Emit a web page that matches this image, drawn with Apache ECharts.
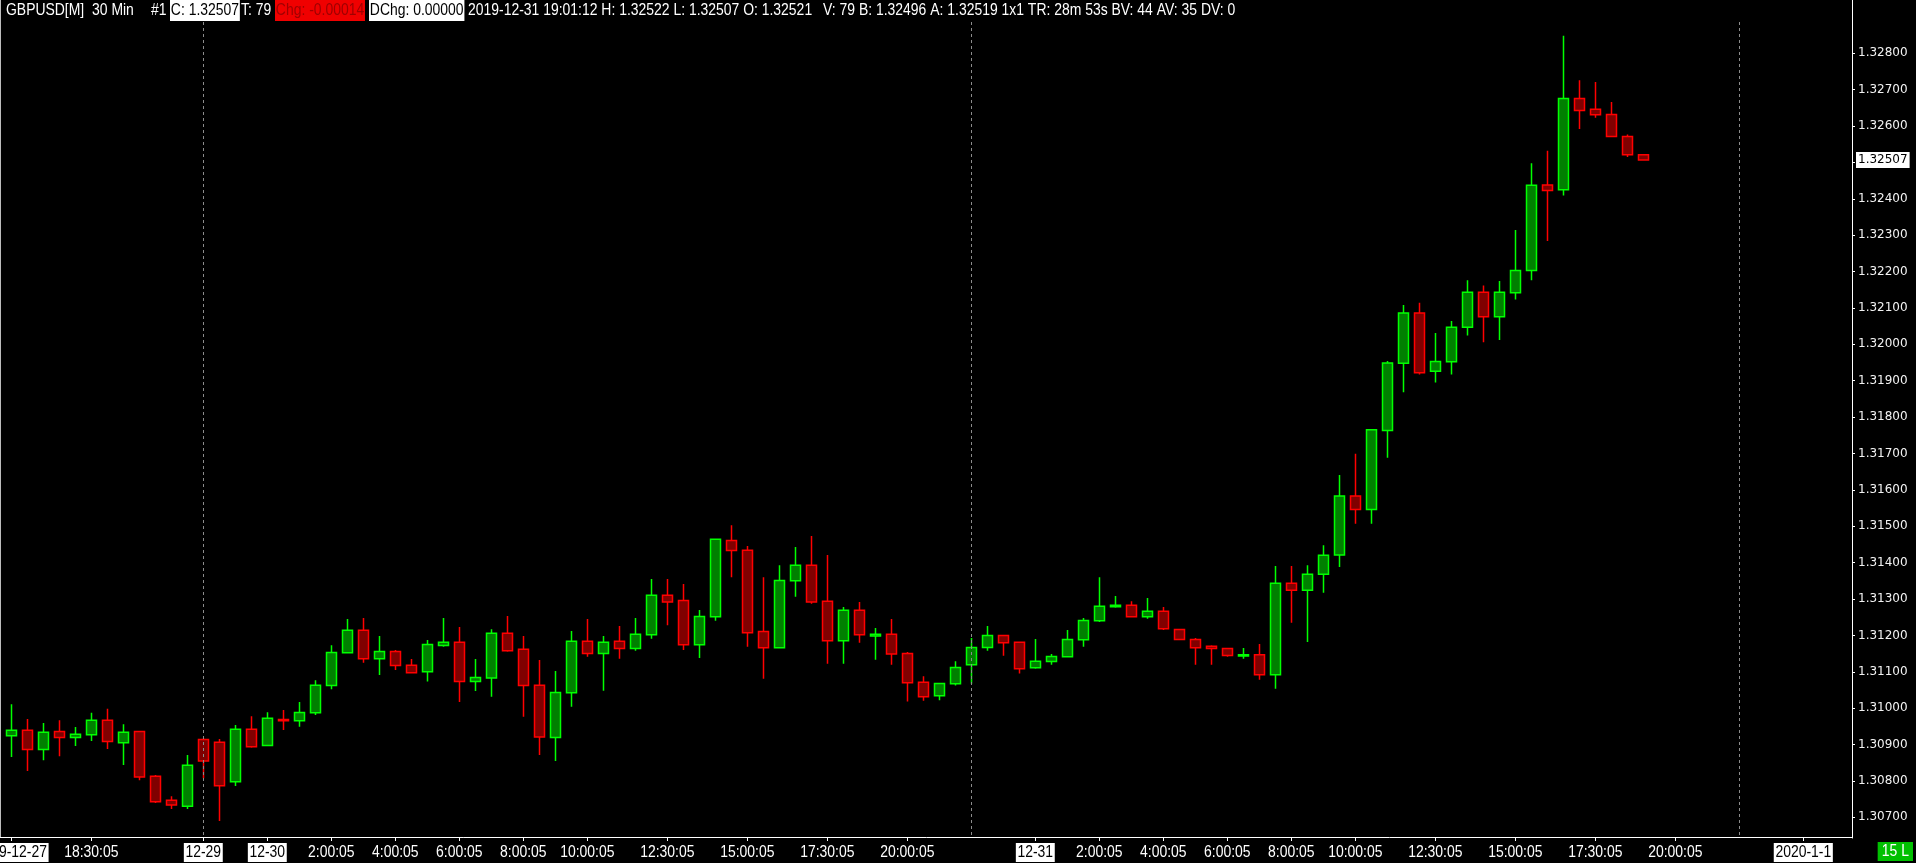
<!DOCTYPE html>
<html><head><meta charset="utf-8">
<script src="https://cdn.jsdelivr.net/npm/echarts@6/dist/echarts.min.js"></script>
<style>html,body{margin:0;padding:0;background:#000;overflow:hidden}#c{width:1916px;height:863px}</style>
</head><body><div id="c"></div>
<script>
// ---- data (GBPUSD 30 min) ----
const opens  = [1.30924,1.30939,1.30886,1.30936,1.30919,1.30927,1.30967,1.30905,1.30936,1.30813,1.30747,1.30730,1.30914,1.30906,1.30798,1.30942,1.30897,1.30969,1.30965,1.30987,
1.31062,1.31152,1.31214,1.31136,1.31156,1.31118,1.31100,1.31172,1.31181,1.31073,1.31083,1.31206,1.31162,1.31063,1.30919,1.31042,1.31184,1.31150,1.31184,1.31164,
1.31202,1.31310,1.31296,1.31174,1.31251,1.31461,1.31434,1.31211,1.31166,1.31350,1.31393,1.31294,1.31185,1.31269,1.31198,1.31203,1.31150,1.31071,1.31034,1.31067,
1.31119,1.31167,1.31200,1.31181,1.31111,1.31128,1.31141,1.31188,1.31240,1.31279,1.31283,1.31251,1.31266,1.31216,1.31189,1.31170,1.31164,1.31143,1.31147,1.31092,
1.31343,1.31324,1.31368,1.31421,1.31583,1.31546,1.31763,1.31948,1.32086,1.31926,1.31952,1.32047,1.32143,1.32076,1.32142,1.32203,1.32438,1.32425,1.32676,1.32646,
1.32632,1.32571,1.32521];
const closes = [1.30939,1.30886,1.30934,1.30919,1.30928,1.30967,1.30908,1.30934,1.30811,1.30743,1.30734,1.30843,1.30855,1.30787,1.30942,1.30894,1.30972,1.30965,1.30988,1.31063,
1.31153,1.31214,1.31136,1.31156,1.31117,1.31097,1.31175,1.31181,1.31073,1.31084,1.31206,1.31158,1.31062,1.30921,1.31043,1.31184,1.31150,1.31181,1.31164,1.31203,
1.31310,1.31292,1.31174,1.31252,1.31464,1.31433,1.31207,1.31166,1.31351,1.31393,1.31292,1.31185,1.31269,1.31202,1.31203,1.31149,1.31070,1.31031,1.31068,1.31112,
1.31167,1.31200,1.31180,1.31108,1.31129,1.31142,1.31189,1.31241,1.31280,1.31283,1.31251,1.31266,1.31218,1.31189,1.31166,1.31164,1.31145,1.31147,1.31092,1.31343,
1.31324,1.31368,1.31420,1.31583,1.31546,1.31765,1.31949,1.32086,1.31922,1.31953,1.32047,1.32143,1.32076,1.32143,1.32203,1.32437,1.32423,1.32676,1.32643,1.32631,
1.32571,1.32521,1.32507];
const highs  = [1.31011,1.30970,1.30959,1.30967,1.30948,1.30987,1.30998,1.30956,1.30936,1.30816,1.30758,1.30871,1.30917,1.30915,1.30954,1.30978,1.30989,1.30995,1.31017,1.31077,
1.31173,1.31245,1.31248,1.31198,1.31160,1.31135,1.31187,1.31248,1.31223,1.31135,1.31217,1.31253,1.31198,1.31132,1.31102,1.31212,1.31245,1.31198,1.31226,1.31248,
1.31355,1.31355,1.31341,1.31270,1.31464,1.31503,1.31446,1.31360,1.31393,1.31443,1.31473,1.31421,1.31278,1.31292,1.31220,1.31245,1.31154,1.31088,1.31069,1.31129,
1.31193,1.31226,1.31200,1.31181,1.31190,1.31149,1.31215,1.31248,1.31360,1.31308,1.31294,1.31303,1.31278,1.31216,1.31193,1.31173,1.31164,1.31165,1.31176,1.31391,
1.31391,1.31393,1.31448,1.31641,1.31699,1.31765,1.31954,1.32108,1.32114,1.32031,1.32064,1.32176,1.32162,1.32174,1.32314,1.32498,1.32532,1.32848,1.32726,1.32721,
1.32666,1.32577,1.32522];
const lows   = [1.30866,1.30827,1.30857,1.30868,1.30896,1.30910,1.30888,1.30844,1.30802,1.30739,1.30723,1.30723,1.30807,1.30690,1.30786,1.30891,1.30897,1.30940,1.30949,1.30981,
1.31052,1.31152,1.31125,1.31091,1.31105,1.31097,1.31073,1.31169,1.31017,1.31047,1.31031,1.31155,1.30976,1.30871,1.30855,1.31004,1.31141,1.31048,1.31136,1.31158,
1.31191,1.31228,1.31160,1.31138,1.31240,1.31360,1.31169,1.31081,1.31166,1.31306,1.31287,1.31122,1.31122,1.31180,1.31133,1.31119,1.31018,1.31020,1.31022,1.31062,
1.31067,1.31158,1.31144,1.31095,1.31108,1.31119,1.31141,1.31169,1.31237,1.31276,1.31251,1.31246,1.31215,1.31189,1.31119,1.31119,1.31141,1.31136,1.31078,1.31053,
1.31235,1.31182,1.31317,1.31388,1.31507,1.31507,1.31688,1.31868,1.31917,1.31895,1.31917,1.32024,1.32006,1.32012,1.32123,1.32176,1.32284,1.32409,1.32592,1.32623,
1.32571,1.32515,1.32507];
const priceTicks = [1.307,1.308,1.309,1.310,1.311,1.312,1.313,1.314,1.315,1.316,1.317,1.318,1.319,1.320,1.321,1.322,1.323,1.324,1.325,1.326,1.327,1.328];
const xTickIndex = [0,5,12,16,20,24,28,32,36,41,46,51,56,64,68,72,76,80,84,89,94,99,104,112];
const xTickText  = ['2019-12-27','18:30:05','12-29','12-30','2:00:05','4:00:05','6:00:05','8:00:05','10:00:05','12:30:05','15:00:05','17:30:05','20:00:05',
                    '12-31','2:00:05','4:00:05','6:00:05','8:00:05','10:00:05','12:30:05','15:00:05','17:30:05','20:00:05','2020-1-1'];
const sessionLines = [12,60,108];
const slotCount = 116;
const lastPrice = 1.32507;
const headerParts = [
  ['GBPUSD[M]', 6, null], ['30 Min', 92, null], ['#1', 151, null],
  ['C: 1.32507', 170, 'white'], ['T: 79', 241, null], ['Chg: -0.00014', 275, 'red'],
  ['DChg: 0.00000', 369, 'white'],
  ['2019-12-31 19:01:12 H: 1.32522 L: 1.32507 O: 1.32521', 468, null],
  ['V: 79 B: 1.32496 A: 1.32519 1x1 TR: 28m 53s BV: 44 AV: 35 DV: 0', 823, null]
];
const yMin = 1.3064305, yMax = 1.3294651, lineTop = 1.32886;

// ---- build ----
const cats = []; for (let i=0;i<slotCount;i++) cats.push(String(i));
const labelMap = {}; xTickIndex.forEach((k,j)=>labelMap[k]=xTickText[j]);
const ohlc = opens.map((o,i)=>[o, closes[i], lows[i], highs[i]]);
const FONT = '17px "Liberation Sans", Arial, sans-serif';
const SX = 0.82; // narrow rendering

const chart = echarts.init(document.getElementById('c'), null, {renderer:'canvas'});
const baseGraphic = [
  {type:'line', shape:{x1:0.5,y1:0,x2:0.5,y2:838}, style:{stroke:'#bdbdbd', lineWidth:1}, silent:true},
  {type:'line', shape:{x1:0,y1:837.5,x2:1852.5,y2:837.5}, style:{stroke:'#fff', lineWidth:1}, silent:true}
];
headerParts.forEach(([t,x,bg])=>{
  const st = {text:t, font:FONT, verticalAlign:'middle', align:'left', fill:'#fff'};
  if (bg==='white') { st.fill='#000'; st.backgroundColor='#fff'; st.padding=[2,1,2,1]; }
  if (bg==='red') { st.fill='#a00000'; st.backgroundColor='#f00000'; st.padding=[2,1,2,1]; }
  baseGraphic.push({type:'text', x:x, y:10.5, scaleX:SX, z:10, silent:true, style:st});
});
baseGraphic.push({type:'text', x:1913, y:851.5, scaleX:SX, silent:true,
  style:{text:'15 L', font:FONT, fill:'#fff', align:'right', verticalAlign:'middle', backgroundColor:'#00c000', padding:[1,5,1,5]}});

chart.setOption({
  backgroundColor:'#000',
  animation:false,
  grid:{left:3.3, top:0, width:1856, height:838, containLabel:false},
  xAxis:{type:'category', data:cats, boundaryGap:true,
    axisLine:{show:false},
    axisTick:{show:true, alignWithLabel:true, length:3, interval:(i)=>labelMap[i]!==undefined, lineStyle:{color:'#fff', width:1}},
    axisLabel:{show:false},
    splitLine:{show:false}},
  yAxis:{type:'value', position:'right', offset:-7.3, min:yMin, max:yMax, scale:true,
    axisLine:{show:true, lineStyle:{color:'#fff', width:1}},
    axisTick:{show:true, length:3, customValues:priceTicks, lineStyle:{color:'#fff'}},
    axisLabel:{show:true, customValues:priceTicks, margin:6, color:'#f2f2f2', fontFamily:'"DejaVu Sans",sans-serif', fontSize:12,
      formatter:(v)=>Number(v).toFixed(5)},
    splitLine:{show:false}},
  series:[{type:'candlestick', data:ohlc, barWidth:10, clip:false, z:2,
    itemStyle:{color:'#008000', color0:'#800000', borderColor:'#00ff00', borderColor0:'#ff0000', borderWidth:1.5},
    markLine:{silent:true, symbol:['none','none'], animation:false, z:5,
      data: sessionLines.map(k=>[{coord:[String(k), lineTop], lineStyle:{color:'#8c8c8c', type:[3,3], width:1}, label:{show:false}},
                                 {coord:[String(k), yMin]}])}
  }],
  graphic:baseGraphic
});

// x-axis tick labels and last-price tag placed through the axis scales
const g = baseGraphic.slice();
xTickIndex.forEach((k,j)=>{
  const px = chart.convertToPixel({xAxisIndex:0}, String(k));
  const t = xTickText[j];
  const isDate = t.indexOf('-')>=0;
  const st = {text:t, font:FONT, align:'center', verticalAlign:'middle', fill:isDate?'#000':'#fff'};
  if (isDate) { st.backgroundColor='#fff'; st.padding=[1,2,1,2]; }
  g.push({type:'text', x:px, y:852.5, scaleX:SX, silent:true, style:st});
});
const lpY = chart.convertToPixel({yAxisIndex:0}, lastPrice);
g.push({type:'text', x:1856, y:lpY, z:100, silent:true,
  style:{text:lastPrice.toFixed(5), font:'12px "DejaVu Sans", sans-serif', fill:'#000', align:'left', verticalAlign:'middle',
         backgroundColor:'#fff', padding:[2,2,2,2]}});
chart.setOption({graphic:g});
</script></body></html>
